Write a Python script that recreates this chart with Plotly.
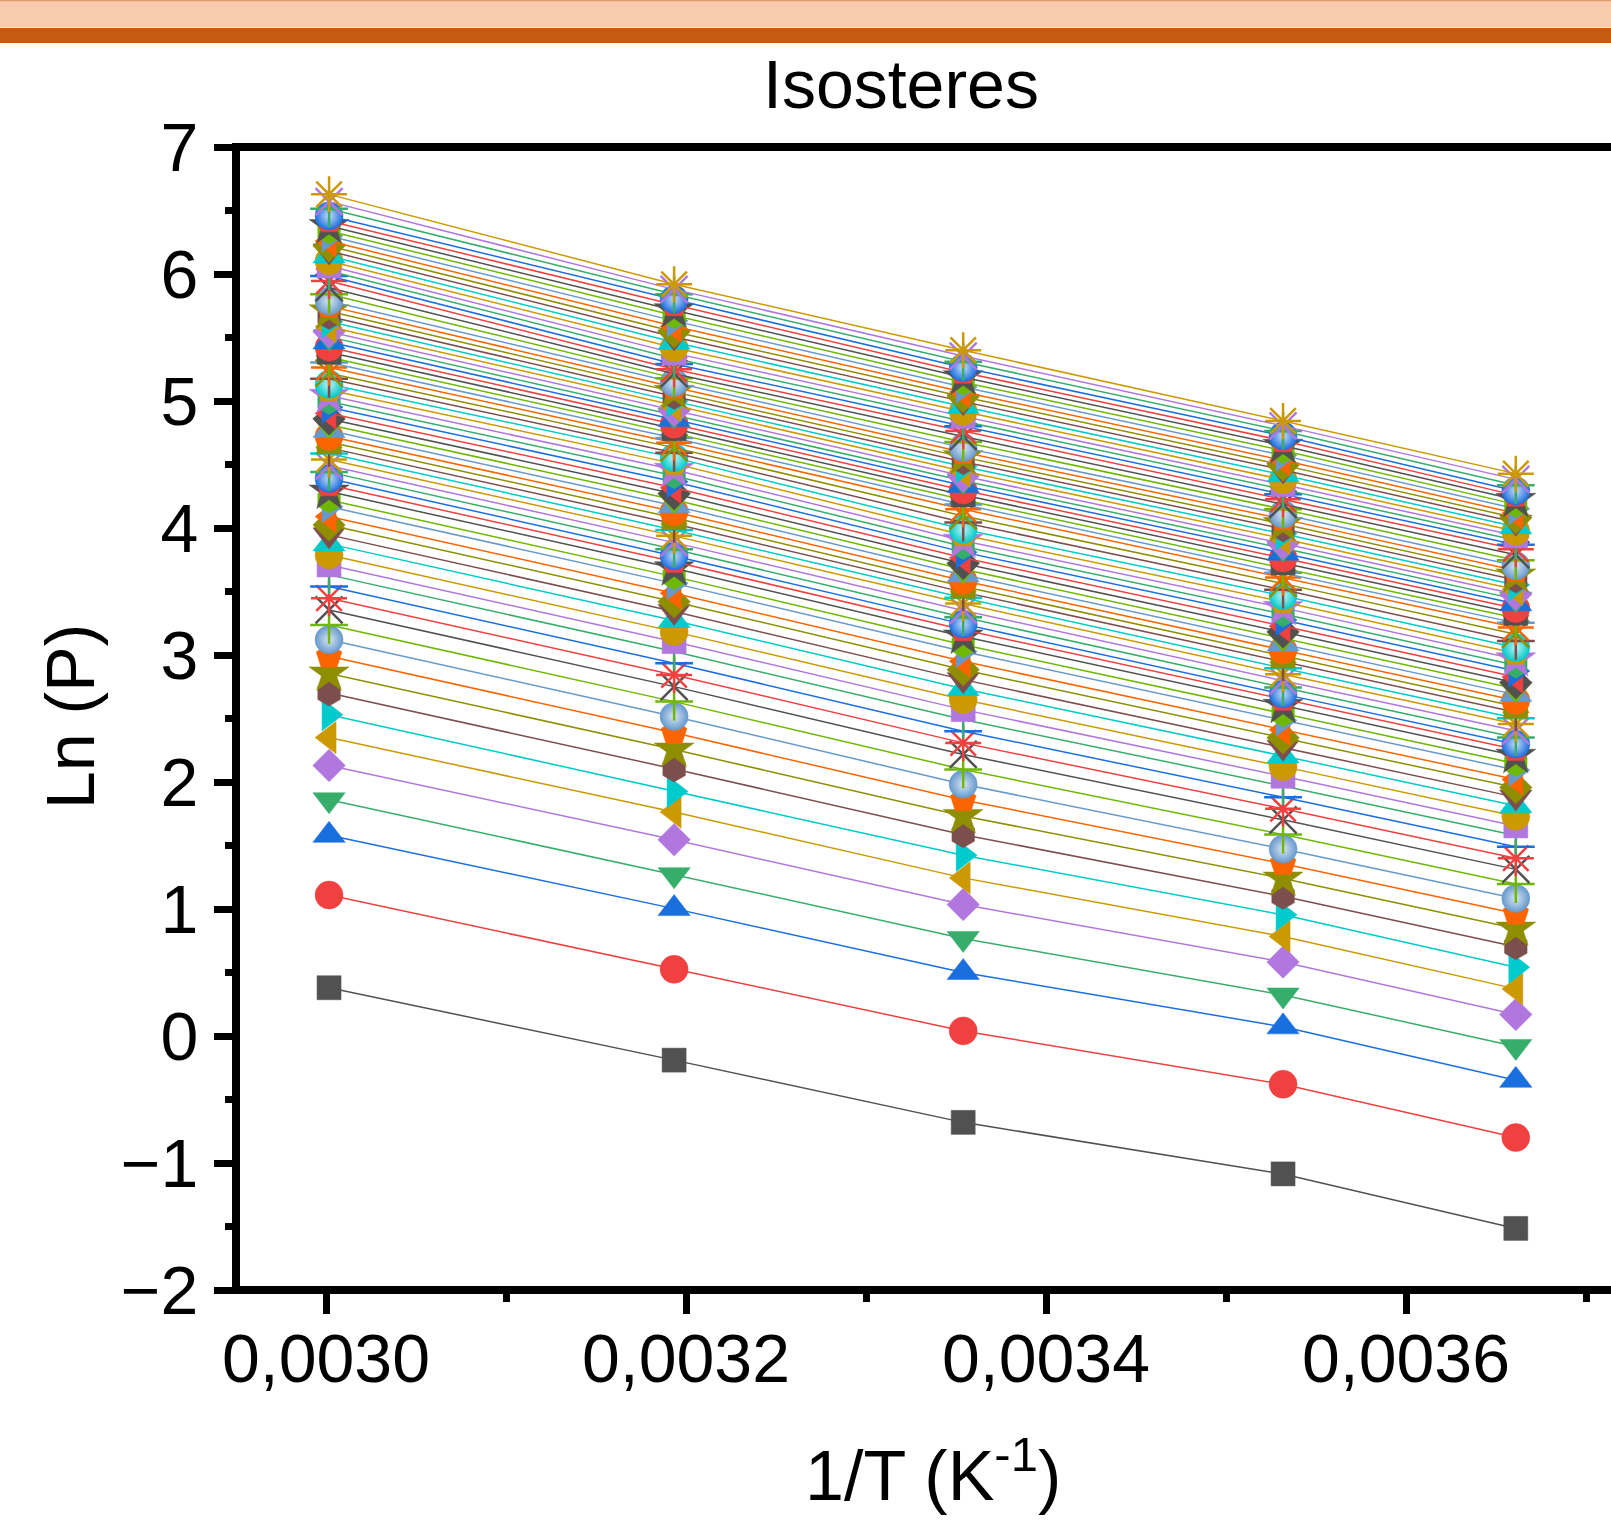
import plotly.graph_objects as go

# ---------------- data ----------------
# temperatures (K) of the five isotherms and the corresponding 1/T
temperatures_K = [333.15, 313.15, 298.15, 283.15, 273.15]
inv_T = [0.0030017, 0.0031934, 0.0033540, 0.0035317, 0.0036610]

# ln(P) of each isostere (78 loadings, lowest loading first) at each temperature
ln_p_333K = [0.38, 1.11, 1.58, 1.86, 2.13, 2.35, 2.53, 2.70, 2.855, 2.99,
             3.12, 3.237, 3.355, 3.447, 3.539, 3.631, 3.709, 3.788, 3.875, 3.946,
             4.024, 4.09, 4.168, 4.221, 4.287, 4.339, 4.39, 4.44, 4.49, 4.54,
             4.586, 4.631, 4.677, 4.722, 4.768, 4.813, 4.859, 4.904, 4.950, 4.996,
             5.041, 5.087, 5.132, 5.176, 5.219, 5.263, 5.303, 5.344, 5.384, 5.424,
             5.465, 5.505, 5.545, 5.585, 5.626, 5.666, 5.706, 5.747, 5.787, 5.840,
             5.892, 5.945, 5.984, 6.024, 6.063, 6.103, 6.142, 6.181, 6.221, 6.260,
             6.299, 6.339, 6.378, 6.418, 6.457, 6.514, 6.570, 6.627]
ln_p_313K = [-0.19, 0.525, 1.003, 1.27, 1.545, 1.763, 1.925, 2.103, 2.256, 2.388,
             2.516, 2.633, 2.751, 2.843, 2.935, 3.027, 3.105, 3.184, 3.271, 3.342,
             3.420, 3.486, 3.564, 3.617, 3.683, 3.735, 3.78, 3.833, 3.885, 3.938,
             3.985, 4.033, 4.080, 4.128, 4.175, 4.222, 4.270, 4.317, 4.365, 4.412,
             4.459, 4.507, 4.554, 4.593, 4.633, 4.672, 4.708, 4.745, 4.781, 4.817,
             4.854, 4.890, 4.926, 4.963, 4.999, 5.036, 5.072, 5.109, 5.145, 5.180,
             5.215, 5.250, 5.292, 5.335, 5.377, 5.419, 5.462, 5.504, 5.546, 5.588,
             5.631, 5.673, 5.715, 5.758, 5.800, 5.840, 5.879, 5.919]
ln_p_298K = [-0.68, 0.04, 0.50, 0.768, 1.035, 1.245, 1.423, 1.585, 1.733, 1.859,
             1.982, 2.099, 2.217, 2.308, 2.400, 2.492, 2.570, 2.649, 2.735, 2.806,
             2.884, 2.950, 3.028, 3.081, 3.146, 3.198, 3.243, 3.297, 3.351, 3.405,
             3.450, 3.495, 3.540, 3.585, 3.630, 3.675, 3.720, 3.765, 3.810, 3.855,
             3.900, 3.945, 3.990, 4.043, 4.095, 4.148, 4.185, 4.223, 4.260, 4.298,
             4.335, 4.372, 4.409, 4.447, 4.484, 4.521, 4.558, 4.596, 4.633, 4.677,
             4.720, 4.764, 4.802, 4.841, 4.879, 4.918, 4.956, 4.995, 5.033, 5.071,
             5.110, 5.148, 5.187, 5.225, 5.263, 5.309, 5.354, 5.400]
ln_p_283K = [-1.086, -0.38, 0.072, 0.323, 0.582, 0.784, 0.954, 1.10, 1.240, 1.357,
             1.472, 1.586, 1.702, 1.790, 1.880, 1.969, 2.045, 2.121, 2.205, 2.273,
             2.348, 2.412, 2.487, 2.538, 2.600, 2.650, 2.692, 2.744, 2.797, 2.849,
             2.896, 2.944, 2.991, 3.039, 3.086, 3.133, 3.181, 3.228, 3.276, 3.323,
             3.371, 3.418, 3.466, 3.514, 3.562, 3.610, 3.648, 3.687, 3.725, 3.763,
             3.802, 3.840, 3.878, 3.916, 3.955, 3.993, 4.031, 4.070, 4.108, 4.148,
             4.187, 4.227, 4.265, 4.304, 4.342, 4.380, 4.418, 4.457, 4.495, 4.533,
             4.572, 4.610, 4.648, 4.687, 4.725, 4.764, 4.804, 4.843]
ln_p_273K = [-1.515, -0.80, -0.349, -0.082, 0.169, 0.371, 0.541, 0.703, 0.846, 0.965,
             1.083, 1.197, 1.312, 1.400, 1.490, 1.578, 1.654, 1.730, 1.813, 1.881,
             1.956, 2.020, 2.094, 2.145, 2.207, 2.256, 2.298, 2.351, 2.403, 2.456,
             2.502, 2.549, 2.595, 2.642, 2.688, 2.735, 2.781, 2.827, 2.874, 2.920,
             2.966, 3.013, 3.059, 3.111, 3.164, 3.216, 3.253, 3.291, 3.328, 3.366,
             3.403, 3.440, 3.478, 3.515, 3.552, 3.590, 3.627, 3.665, 3.702, 3.746,
             3.789, 3.833, 3.868, 3.904, 3.939, 3.974, 4.010, 4.045, 4.080, 4.116,
             4.151, 4.186, 4.222, 4.257, 4.292, 4.337, 4.383, 4.428]

columns = [ln_p_333K, ln_p_313K, ln_p_298K, ln_p_283K, ln_p_273K]

# ---------------- styles ----------------
PALETTE = ["#515151", "#F14040", "#1A6FDF", "#37AD6B", "#B177DE", "#CC9900",
           "#00CBCC", "#7D4E4E", "#8E8E00", "#FB6501", "#6699CC", "#6FB802"]
SYMBOLS = ["square", "circle", "triangle-up", "triangle-down", "diamond",
           "triangle-left", "triangle-right", "hexagon", "star", "pentagon",
           "sphere", "cross-thin", "x-thin", "asterisk", "line-ew", "line-ns"]
SIZES = {"square": 24, "circle": 28, "triangle-up": 28, "triangle-down": 28,
         "diamond": 25, "triangle-left": 28, "triangle-right": 28, "hexagon": 26,
         "star": 30, "pentagon": 27, "sphere": 28, "cross-thin": 27, "x-thin": 27,
         "asterisk": 30, "line-ew": 27, "line-ns": 27}
THIN = {"cross-thin", "x-thin", "asterisk", "line-ew", "line-ns"}
FONT = "Liberation Sans, Arial, sans-serif"


def tint(hexcol, f=0.6):
    r, g, b = int(hexcol[1:3], 16), int(hexcol[3:5], 16), int(hexcol[5:7], 16)
    r, g, b = [int(c + (255 - c) * f) for c in (r, g, b)]
    return f"#{r:02x}{g:02x}{b:02x}"


fig = go.Figure()
n_lines = len(ln_p_333K)
for i in range(n_lines):
    col = PALETTE[i % len(PALETTE)]
    sym = SYMBOLS[i % len(SYMBOLS)]
    yvals = [c[i] for c in columns]
    if sym == "sphere":
        marker = dict(symbol="circle", size=SIZES[sym], color=col,
                      line=dict(color=col, width=0.5),
                      gradient=dict(type="radial", color=tint(col, 0.75)))
    elif sym in THIN:
        marker = dict(symbol=sym, size=SIZES[sym], color=col,
                      line=dict(color=col, width=2.5))
    else:
        marker = dict(symbol=sym, size=SIZES[sym], color=col,
                      line=dict(color=col, width=0.5))
    fig.add_trace(go.Scatter(x=inv_T, y=yvals, mode="lines+markers",
                             line=dict(color=col, width=1.5),
                             marker=marker, showlegend=False,
                             name=f"isostere {i + 1}"))

# plot area geometry (pixels)
L, T, B = 236, 147, 1290
PW = 1611 - L
PH = B - T
LW = 8  # frame line width


def px_x(p):
    return (p - L) / PW


def px_y(p):
    return (B - p) / PH


fig.update_layout(
    width=1611, height=1525,
    margin=dict(l=L, r=0, t=T, b=1525 - B, pad=0),
    paper_bgcolor="white", plot_bgcolor="white",
    separators=",.",
    font=dict(family=FONT, color="black", size=68),
    showlegend=False,
    xaxis=dict(range=[0.00295, 0.00295 + PW / 1.8e6], showgrid=False, zeroline=False,
               showline=False,
               ticks="outside", ticklen=23, tickwidth=7, tickcolor="black",
               tick0=0.0030, dtick=0.0002, tickformat=".4f",
               ticklabelstandoff=-14,
               tickfont=dict(family=FONT, size=68, color="black"),
               minor=dict(ticks="outside", ticklen=11, tickwidth=7, tickcolor="black",
                          tick0=0.0030, dtick=0.0001, showgrid=False)),
    yaxis=dict(range=[-2, 7], showgrid=False, zeroline=False,
               showline=False,
               ticks="outside", ticklen=21, tickwidth=7, tickcolor="black",
               tick0=0, dtick=1, ticklabelstandoff=2,
               tickfont=dict(family=FONT, size=68, color="black"),
               minor=dict(ticks="outside", ticklen=10, tickwidth=7, tickcolor="black",
                          tick0=0, dtick=0.5, showgrid=False)),
    shapes=[
        # header bands
        dict(type="rect", xref="paper", yref="paper", x0=px_x(-5), x1=px_x(1620),
             y0=px_y(27.5), y1=px_y(-2), fillcolor="#F8CBAD", line=dict(width=0),
             layer="above"),
        dict(type="line", xref="paper", yref="paper", x0=px_x(-5), x1=px_x(1620),
             y0=px_y(0.5), y1=px_y(0.5), line=dict(color="#E39A6C", width=1.5),
             layer="above"),
        dict(type="rect", xref="paper", yref="paper", x0=px_x(-5), x1=px_x(1620),
             y0=px_y(43), y1=px_y(28), fillcolor="#C55A11", line=dict(width=0),
             layer="above"),
        # frame lines (left, bottom, top), centred on the plot-area edges
        dict(type="line", xref="paper", yref="paper", x0=0, x1=0,
             y0=px_y(B + LW / 2), y1=px_y(T - LW / 2),
             line=dict(color="black", width=LW), layer="above"),
        dict(type="line", xref="paper", yref="paper", x0=px_x(L - LW / 2), x1=px_x(1620),
             y0=0, y1=0, line=dict(color="black", width=LW), layer="above"),
        dict(type="line", xref="paper", yref="paper", x0=px_x(L - LW / 2), x1=px_x(1620),
             y0=1, y1=1, line=dict(color="black", width=LW), layer="above"),
    ],
    annotations=[
        dict(text="Isosteres", xref="paper", yref="paper", x=px_x(901), y=px_y(84),
             showarrow=False, xanchor="center", yanchor="middle",
             font=dict(family=FONT, size=68, color="black")),
        dict(text="1/T (K<sup>-1</sup>)", xref="paper", yref="paper",
             x=px_x(933), y=px_y(1471), showarrow=False, xanchor="center",
             yanchor="middle", font=dict(family=FONT, size=70, color="black")),
        dict(text="Ln (P)", xref="paper", yref="paper", x=px_x(70), y=px_y(717),
             showarrow=False, xanchor="center", yanchor="middle", textangle=-90,
             font=dict(family=FONT, size=68, color="black")),
    ],
)

fig.write_html("out.html", config={"displayModeBar": False},
               post_script="document.body.style.margin='0';")
